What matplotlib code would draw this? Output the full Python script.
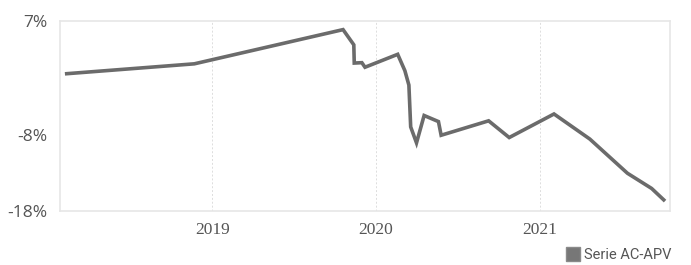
import matplotlib
matplotlib.use("Agg")
import matplotlib.pyplot as plt
import matplotlib.dates as mdates
from matplotlib.lines import Line2D
import pandas as pd

# --- Data ---
dates = [
    "2018-02-10", "2018-11-22", "2019-10-20", "2019-11-13", "2019-11-14",
    "2019-12-01", "2019-12-08", "2020-02-19", "2020-03-06", "2020-03-15",
    "2020-03-19", "2020-04-01", "2020-04-18", "2020-05-20", "2020-05-26",
    "2020-09-09", "2020-10-25", "2021-02-02", "2021-04-23", "2021-07-16",
    "2021-09-08", "2021-10-05",
]
values = [
    0.0, 1.3, 5.8, 3.8, 1.4,
    1.45, 0.85, 2.55, 0.4, -1.5,
    -7.0, -9.1, -5.5, -6.3, -8.1,
    -6.2, -8.4, -5.3, -8.6, -13.1,
    -15.1, -16.6,
]
y_ticks = [7, -8, -18]
year_ticks = ["2019-01-01", "2020-01-01", "2021-01-01"]
series_name = "Serie AC-APV"

LINE = "#6b6b6b"
TEXT = "#555555"
FRAME = "#e6e6e6"

x = pd.to_datetime(dates)

fig = plt.figure(figsize=(6.91, 2.65), dpi=100)
ax = fig.add_axes([60 / 691, 1 - 210.5 / 265, 610 / 691, 190 / 265])

ax.plot(x, values, color=LINE, linewidth=2.6, solid_joinstyle="miter")

ax.set_xlim(pd.Timestamp("2018-01-26"), pd.Timestamp("2021-10-19"))
ax.set_ylim(-18, 7)

ax.set_yticks(y_ticks)
ax.set_yticklabels([f"{v}%" for v in y_ticks], fontsize=12.5, color=TEXT,
                   family="Open Sans")
ax.set_xticks(pd.to_datetime(year_ticks))
ax.xaxis.set_major_formatter(mdates.DateFormatter("%Y"))
for lab in ax.get_xticklabels():
    lab.set_family("Liberation Serif")
    lab.set_fontsize(12.5)
    lab.set_color(TEXT)

ax.tick_params(axis="y", length=0, pad=9)
ax.tick_params(axis="x", length=0, pad=8)
ax.grid(axis="x", color="#dddddd", linestyle=(0, (2, 2)), linewidth=0.7)
for s in ax.spines.values():
    s.set_color(FRAME)
    s.set_linewidth(1.2)

handle = Line2D([], [], marker="s", linestyle="none", markersize=10.5,
                markerfacecolor="#777777", markeredgecolor="#8a8a8a")
fig.legend([handle], [series_name], loc="upper left",
           bbox_to_anchor=(564 / 691, 1 - 248 / 265), frameon=False,
           handletextpad=0.15, handlelength=1.2, borderaxespad=0, borderpad=0,
           prop={"family": "Roboto", "size": 10.5}, labelcolor=TEXT)

fig.savefig("out.png", dpi=100)
